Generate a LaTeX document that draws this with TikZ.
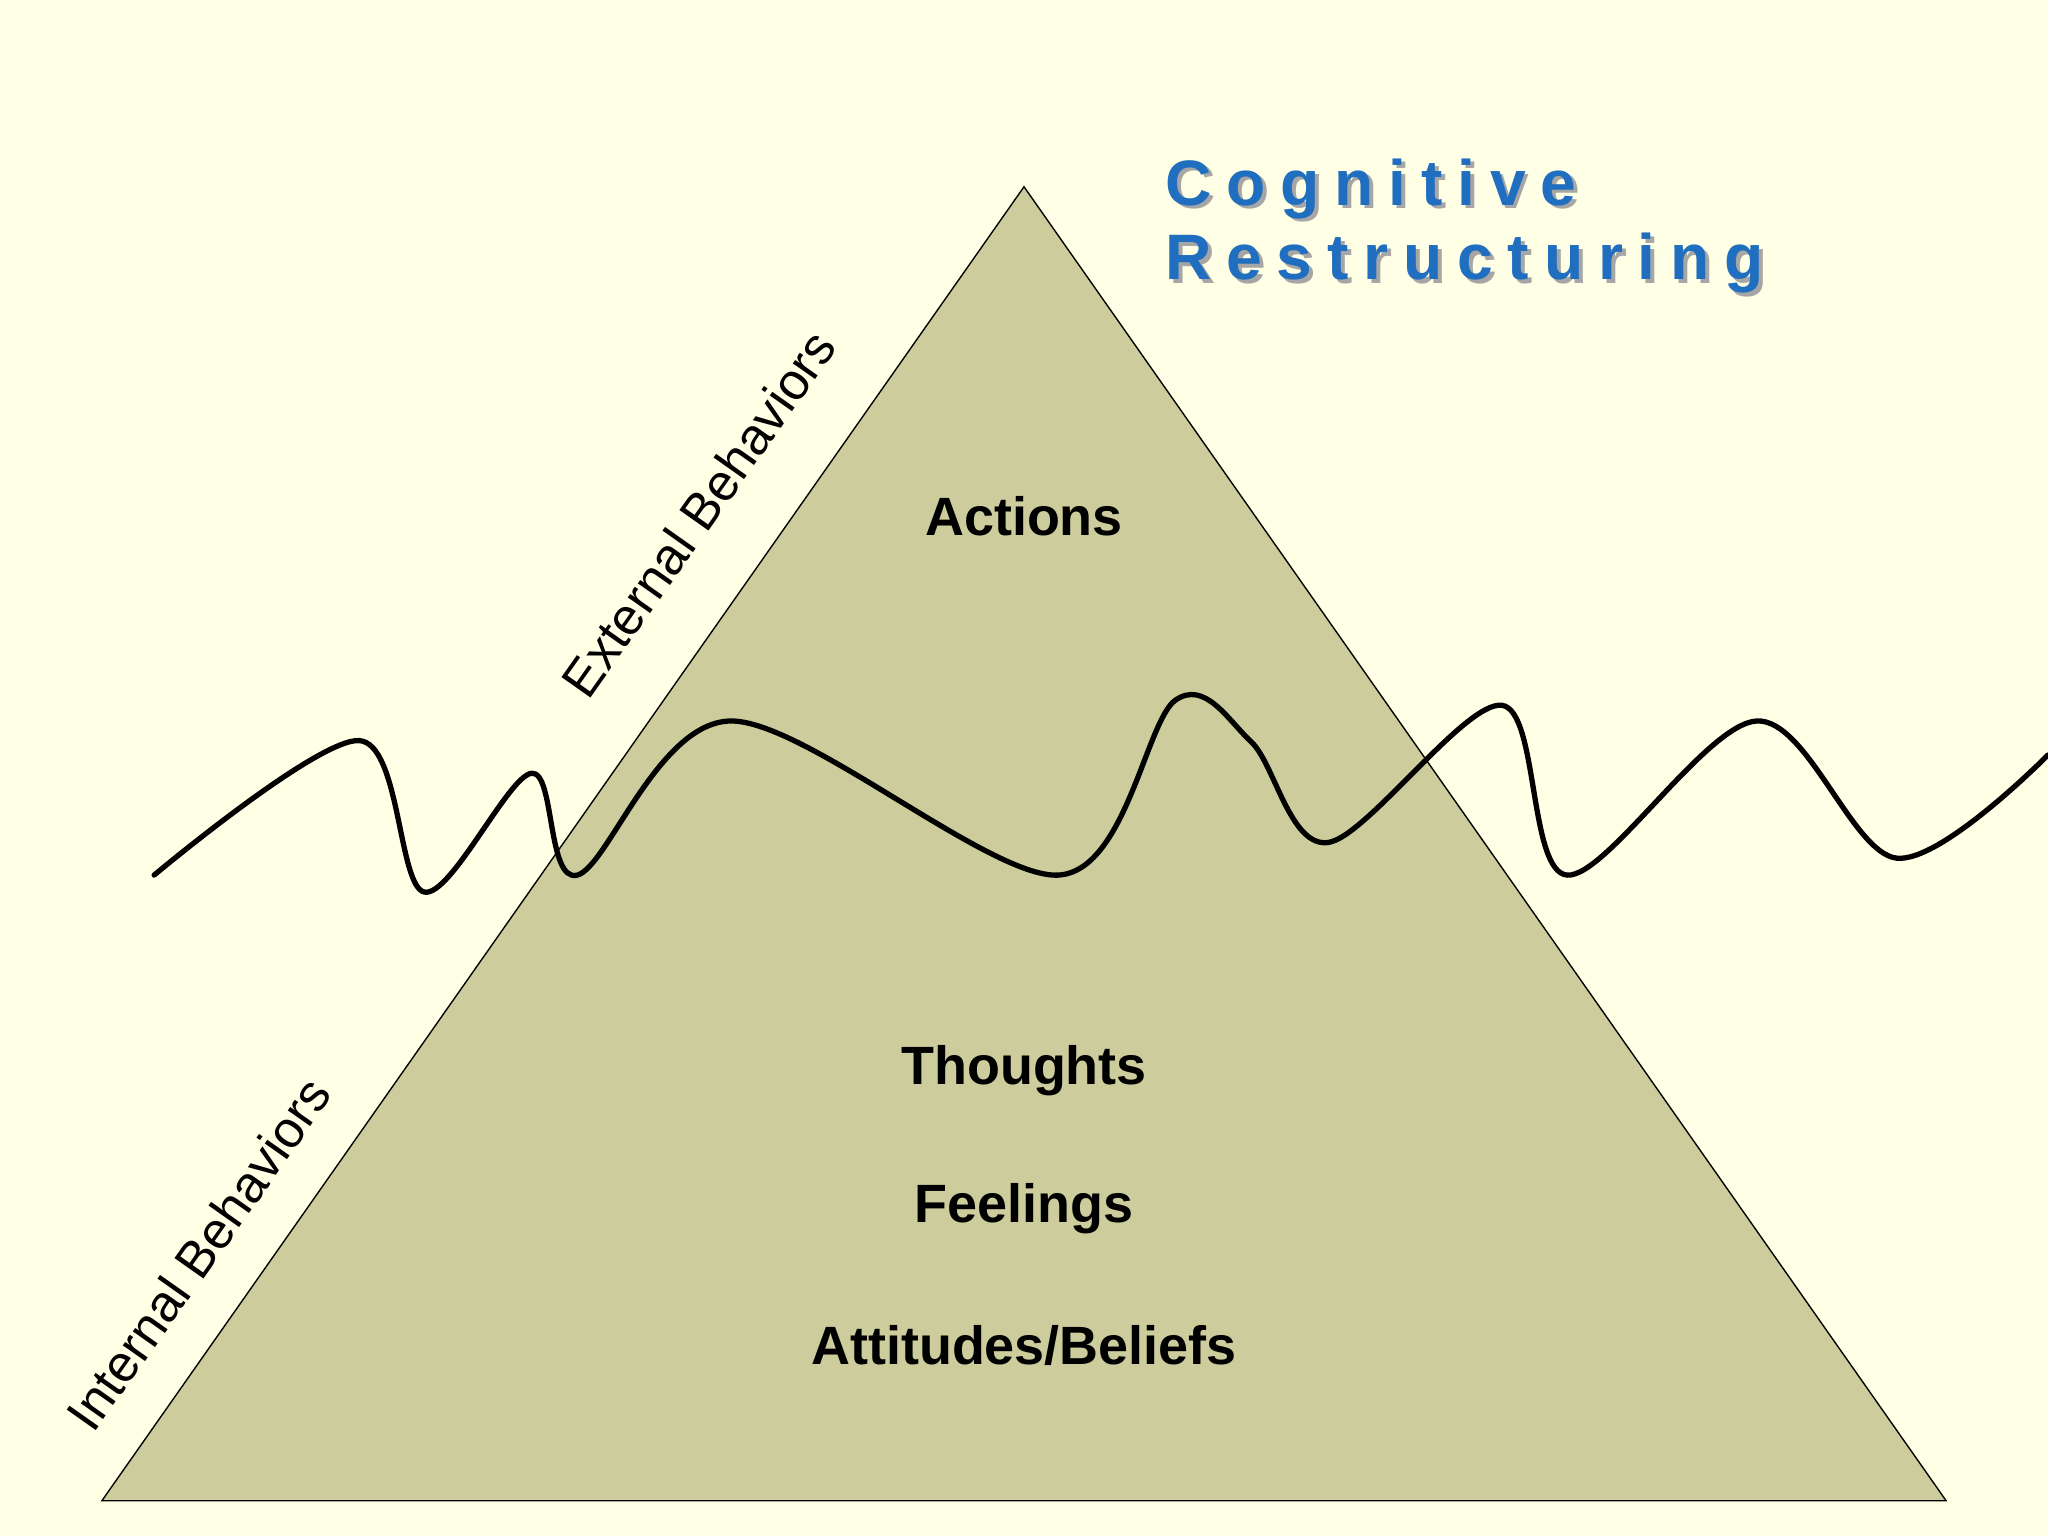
\documentclass[tikz,border=0pt]{standalone}
\usepackage{fontspec}
\setmainfont{Liberation Sans}
\definecolor{bg}{HTML}{FFFFE6}
\definecolor{tri}{HTML}{CCCC9C}
\definecolor{ttl}{HTML}{1F6EBF}
\begin{document}
\begin{tikzpicture}[x=0.02cm,y=-0.02cm,
  lbl/.style={font=\fontsize{23.5}{28}\selectfont\bfseries},
  side/.style={font=\fontsize{22.5}{27}\selectfont},
  ttlstyle/.style={font=\fontsize{28}{32}\selectfont\bfseries\addfontfeature{LetterSpace=23},anchor=base west}]
\fill[bg] (0,0) rectangle (1568,1176);
\useasboundingbox (0,0) rectangle (1568,1176);
\coordinate (apex) at (784,143);
\coordinate (bl) at (78,1149);
\coordinate (br) at (1490,1149);
\draw[fill=tri,line width=0.6pt] (apex) -- (bl) -- (br) -- cycle;
\draw[line width=2.3pt,line cap=round] plot[smooth,tension=0.55] coordinates {
(118,670) (275,567) (325,683) (407,592) (442,670) (560,552) (810,670)
(900,536) (958,568) (1017,645) (1150,540) (1200,670) (1345,552) (1452,657) (1568,578)};
\node[lbl] (act) at (784,395) {Actions};
\node[lbl] (tho) at (784,820) {Thoughts};
\node[lbl] (fee) at (784,925) {Feelings};
\node[lbl] (att) at (784,1030) {Attitudes/Beliefs};
\node[side,rotate=54.8] (ext) at (535,393) {External Behaviors};
\node[side,rotate=54.8] (int) at (152,960) {Internal Behaviors};
\foreach \t/\y/\n in {Cognitive/157/c1,Restructuring/214/c2}{
  \node[ttlstyle,text=black!35] at (889,\y+3) {\t};
  \node[ttlstyle,text=ttl] (\n) at (886,\y) {\t};
}
\end{tikzpicture}
\end{document}
